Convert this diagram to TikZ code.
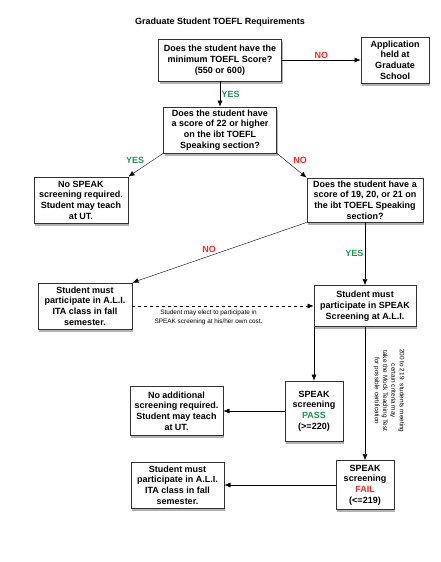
\documentclass[tikz,border=0pt]{standalone}
\usepackage{fontspec}
\setmainfont{Liberation Sans}
\usetikzlibrary{arrows.meta}
\usetikzlibrary{shapes,shadows}
\definecolor{nored}{RGB}{245,40,40}
\definecolor{yesgreen}{RGB}{30,150,80}
\tikzset{%
  >={Latex[width=5pt,length=6pt]},
  % Specifications for style of nodes:
            base/.style = {rectangle, draw=black!80, line width=0.9pt,
                           fill=white, inner xsep=2pt, inner ysep=1.5pt,
                           drop shadow={shadow xshift=1.2pt, shadow yshift=-2.5pt, opacity=0.5, fill=black!60},
                           text centered, align=center,
                           font=\fontsize{9}{10.7}\selectfont\bfseries},
       question/.style = {base, minimum height=42pt},
       answer/.style = {base, minimum height=46pt},
       screening/.style = {base, minimum width=58pt},
       nolabel/.style = {text=nored, inner sep=1.5pt,
                           font=\fontsize{9}{10}\selectfont\bfseries},
       yeslabel/.style = {text=yesgreen, inner sep=1.5pt,
                           font=\fontsize{9}{10}\selectfont\bfseries},
       notetext/.style = {inner sep=0pt, align=center,
                           font=\fontsize{6.4}{8.3}\selectfont}
}

\begin{document}
\begin{tikzpicture}[x=1pt, y=1pt, node distance=70pt]
  \useasboundingbox (0,0) rectangle (441,-562);
  % Specification of nodes (position, etc.)
  \node (title) [font=\fontsize{9}{10}\selectfont\bfseries] at (220,-22) {Graduate Student TOEFL Requirements};
  \node (q1)       [question, minimum width=123pt] at (220,-60) {Does the student have the\\minimum TOEFL Score?\\(550 or 600)};
  \node (app)      [answer, minimum width=68pt, right of = q1, xshift = 105pt] {Application\\held at\\Graduate\\School};
  \node (q2)       [question, minimum width=113pt, minimum height=46pt, below of = q1] {Does the student have\\a score of 22 or higher\\on the ibt TOEFL\\Speaking section?};
  \node (nospeak)  [answer, minimum width=94pt, below of = q2, xshift = -139pt] {No SPEAK\\screening required.\\Student may teach\\at UT.};
  \node (q3)       [question, minimum width=116pt, minimum height=44pt, below of = q2, xshift = 145pt] {Does the student have a\\score of 19, 20, or 21 on\\the ibt TOEFL Speaking\\section?};
  \node (ali1)     [answer, minimum width=94pt, below of = nospeak, xshift = 4pt, yshift = -36pt] {Student must\\participate in A.L.I.\\ITA class in fall\\semester.};
  \node (screen)   [base, minimum width=102pt, minimum height=41pt, below of = q3, yshift = -36pt] {Student must\\participate in SPEAK\\Screening at A.L.I.};
  \node (pass)     [screening, minimum height=60pt, below of = screen, xshift = -51pt, yshift = -35pt] {SPEAK\\screening\\{\color{yesgreen}PASS}\\(>=220)};
  \node (noadd)    [answer, minimum width=93pt, minimum height=49pt, left of = pass, xshift = -67.5pt] {No additional\\screening required.\\Student may teach\\at UT.};
  \node (fail)     [screening, minimum height=49pt, below of = screen, yshift = -109pt] {SPEAK\\screening\\{\color{nored}FAIL}\\(<=219)};
  \node (ali2)     [answer, minimum width=93pt, left of = fail, xshift = -117.5pt] {Student must\\participate in A.L.I.\\ITA class in fall\\semester.};
  \node (note)     [notetext, rotate=-90] at (389,-391) {200 to 219: students meeting\\certain criteria may\\take the Mock Teaching Test\\for possible certification};
  % Connectors
  \draw[->] (q1) -- node[nolabel, above] (no1) {NO} (app);
  \draw[->] (q1) -- node[yeslabel, right] (yes1) {YES} (q2);
  \draw[->] (q2.south west) -- node[yeslabel, above left] (yes2) {YES} (nospeak.north east);
  \draw[->] (q2.south east) -- node[nolabel, above right] (no2) {NO} (q3.north west);
  \draw[->] (q3.south west) -- node[nolabel, pos=0.56, above=2pt] (no3) {NO} (ali1.north east);
  \draw[->] (q3) -- node[yeslabel, left] (yes3) {YES} (screen);
  \draw[->, dashed] (ali1) -- node[notetext, pos=0.42, below=4pt] (elect) {Student may elect to participate in\\SPEAK screening at his/her own cost.} (screen);
  \draw[->] (pass.north |- screen.south) -- (pass);
  \draw[->] (screen.south -| fail.north) -- (fail);
  \draw[->] (pass) -- (noadd);
  \draw[->] (fail) -- (ali2);
\end{tikzpicture}
\end{document}
